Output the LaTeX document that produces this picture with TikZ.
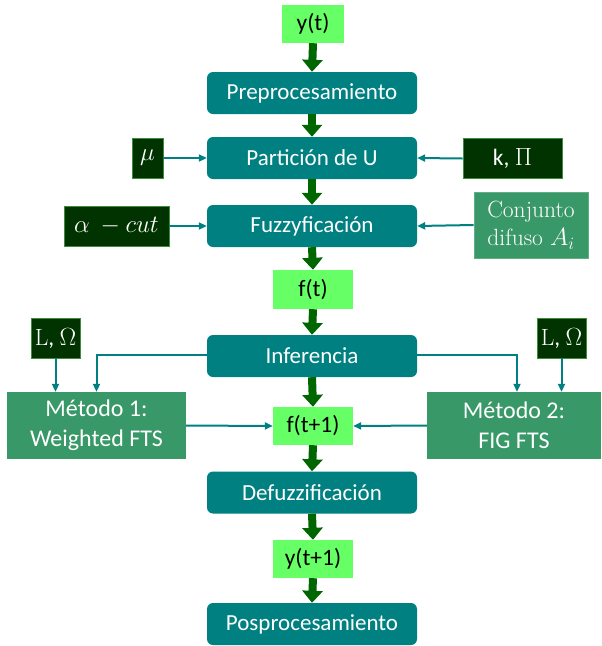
\documentclass[tikz,border=0pt]{standalone}
\usepackage{fontspec}
\setmainfont{Carlito}
\newfontfamily\serifcm{Latin Modern Roman}
\usetikzlibrary{arrows.meta,calc}
\definecolor{tealbox}{RGB}{0,128,128}
\definecolor{lightbox}{RGB}{102,255,102}
\definecolor{darkbox}{RGB}{0,51,0}
\definecolor{darkborder}{RGB}{60,140,60}
\definecolor{methbox}{RGB}{56,152,104}
\definecolor{fatgreen}{RGB}{0,102,0}
\begin{document}
\begin{tikzpicture}[x=1pt,y=-1pt,
  procbox/.style={fill=tealbox,draw=none,rounded corners=6pt,text=white,minimum width=210pt,minimum height=42pt,inner sep=0pt,font=\fontsize{23}{26}\selectfont},
  sigbox/.style={fill=lightbox,draw=none,text=black,minimum height=38pt,inner sep=0pt,font=\fontsize{23.5}{26}\selectfont},
  parbox/.style={fill=darkbox,draw=darkborder,line width=0.8pt,text=white,minimum height=40pt,inner sep=0pt,font=\fontsize{23.5}{26}\selectfont},
  methodbox/.style={fill=methbox,draw=none,text=white,inner sep=0pt,align=center,font=\fontsize{24}{30}\selectfont},
  fatarrow/.style={draw=fatgreen,line width=8pt,-{Triangle[length=12pt,width=20pt]}},
  thinarrow/.style={draw=tealbox,line width=2pt,-{Triangle[length=8pt,width=7pt]}}
]
\useasboundingbox (0,0) rectangle (602,646);
% main column
\node[sigbox,minimum width=62pt] (yt) at (313,24) {y(t)};
\node[procbox] (pre) at (312,93) {Preprocesamiento};
\node[procbox] (part) at (312,158) {Partición de U};
\node[procbox] (fuzz) at (312,226) {Fuzzyficación};
\node[sigbox,minimum width=80pt,minimum height=39pt] (ft) at (313,289.5) {f(t)};
\node[procbox] (inf) at (312,356) {Inferencia};
\node[sigbox,minimum width=80pt] (ft1) at (313,426) {f(t+1)};
\node[procbox] (def) at (312,492.5) {Defuzzificación};
\node[sigbox,minimum width=80pt] (yt1) at (313,559) {y(t+1)};
\node[procbox] (pos) at (312,624) {Posprocesamiento};
% parameter boxes
\node[parbox,minimum width=31pt] (mu) at (147.5,158) {$\mu$};
\node[parbox,minimum width=99pt] (kpi) at (512.5,158.5) {k, $\Pi$};
\node[parbox,minimum width=105pt] (acut) at (116.5,226) {$\alpha\ -cut$};
\node[methodbox,minimum width=114pt,minimum height=66pt,font=\serifcm\fontsize{23.5}{28}\selectfont,draw=methbox!80!white,line width=0.8pt] (conj) at (531,225) {Conjunto\\difuso $A_i$};
\node[parbox,minimum width=49pt] (lo1) at (55.5,338) {{\serifcm L}, $\Omega$};
\node[parbox,minimum width=49pt] (lo2) at (561.5,338) {{\serifcm L}, $\Omega$};
\node[methodbox,minimum width=179pt,minimum height=67pt] (m1) at (96.5,425.5) {Método 1:\\Weighted FTS};
\node[methodbox,minimum width=174pt,minimum height=67pt] (m2) at (514,425.5) {Método 2:\\FIG FTS};
% fat arrows
\draw[fatarrow] (yt.south) -- (pre.north);
\draw[fatarrow] (pre.south) -- (part.north);
\draw[fatarrow] (part.south) -- (fuzz.north);
\draw[fatarrow] (fuzz.south) -- (ft.north);
\draw[fatarrow] (ft.south) -- (inf.north);
\draw[fatarrow] (inf.south) -- (ft1.north);
\draw[fatarrow] (ft1.south) -- (def.north);
\draw[fatarrow] (def.south) -- (yt1.north);
\draw[fatarrow] (yt1.south) -- (pos.north);
% thin connectors
\draw[thinarrow] (mu.east) -- (part.west);
\draw[thinarrow] (kpi.west) -- (part.east);
\draw[thinarrow] (acut.east) -- (fuzz.west);
\draw[thinarrow] (conj.west) -- (fuzz.east);
\draw[thinarrow] ([yshift=1pt]inf.west) -| (m1.north);
\draw[thinarrow] ([yshift=1pt]inf.east) -| ([xshift=3pt]m2.north);
\draw[thinarrow] (lo1.south) -- (lo1.south |- m1.north);
\draw[thinarrow] (lo2.south) -- (lo2.south |- m2.north);
\draw[thinarrow] (m1.east) -- (ft1.west);
\draw[thinarrow] (m2.west) -- (ft1.east);
\end{tikzpicture}
\end{document}
